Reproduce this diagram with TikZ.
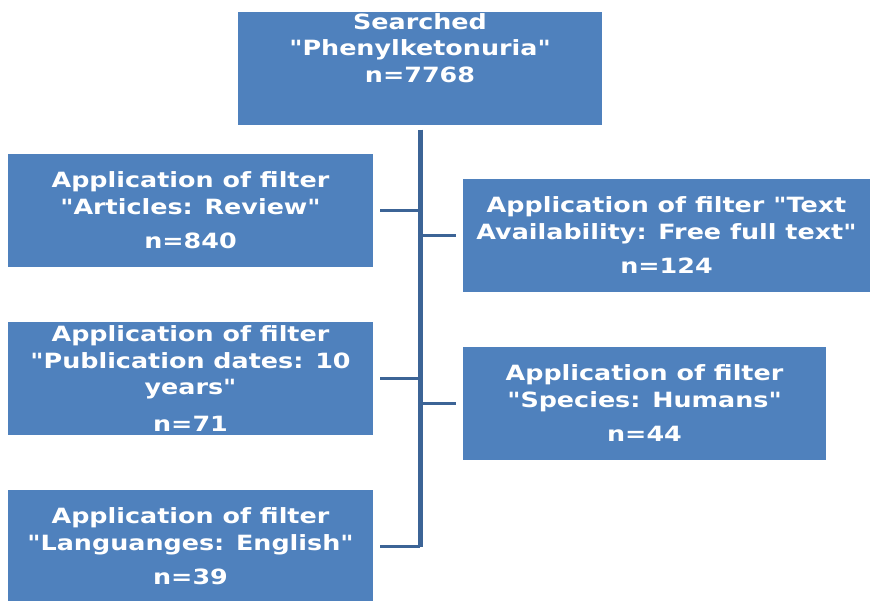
\documentclass[tikz,border=0pt]{standalone}
\usepackage{fontspec}
\newfontfamily\boxfont{DejaVu Sans Bold}[FakeStretch=1.21]
\usetikzlibrary{positioning}
\definecolor{boxblue}{HTML}{4F81BD}
\definecolor{lineblue}{RGB}{60,100,150}

\begin{document}
\begin{tikzpicture}[x=1pt,y=-1pt,
  boxtext/.style={text=white,align=center,font=\boxfont\fontsize{21}{26.5}\selectfont},
  filterbox/.style={boxtext,fill=boxblue,minimum height=113pt,inner sep=0pt},
  spine/.style={draw=lineblue,line width=5pt},
  branch/.style={draw=lineblue,line width=3pt}]
  \useasboundingbox (0,0) rectangle (870,600);

  \node [filterbox,minimum width=364pt] (search)   at (420,68)      {};
  \node [boxtext,inner sep=0pt,below=2pt of search.north] (searchtext) {Searched\\"Phenylketonuria"\\n=7768};

  \node [filterbox,minimum width=365pt] (review)   at (190.5,210.5) {Application of filter\\"Articles: Review"\\[8pt]n=840};
  \node [filterbox,minimum width=407pt] (fulltext) at (666.5,235.5) {Application of filter "Text\\Availability: Free full text"\\[8pt]n=124};
  \node [filterbox,minimum width=365pt] (dates)    at (190.5,378.5) {Application of filter\\"Publication dates: 10\\years"\\[10pt]n=71};
  \node [filterbox,minimum width=363pt] (humans)   at (644.5,403.5) {Application of filter\\"Species: Humans"\\[8pt]n=44};
  \node [filterbox,minimum width=365pt] (english)  at (190.5,546.5) {Application of filter\\"Languanges: English"\\[8pt]n=39};

  \draw [spine]  ([yshift=-5pt]search.south) -- (search.south |- english.east);
  \draw [branch] ([xshift=7pt]review.east)   -- (review.east -| search.south);
  \draw [branch] ([xshift=7pt]dates.east)    -- (dates.east -| search.south);
  \draw [branch] ([xshift=7pt]english.east)  -- (english.east -| search.south);
  \draw [branch] ([xshift=-7pt]fulltext.west) -- (fulltext.west -| search.south);
  \draw [branch] ([xshift=-7pt]humans.west)  -- (humans.west -| search.south);
\end{tikzpicture}
\end{document}
